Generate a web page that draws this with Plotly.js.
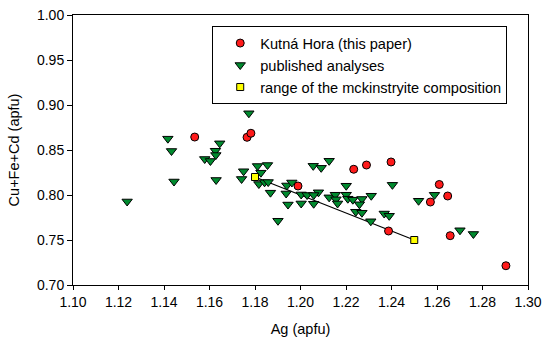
<!DOCTYPE html>
<html>
<head>
<meta charset="utf-8">
<script src="https://cdn.plot.ly/plotly-3.0.1.min.js"></script>
<style>html,body{margin:0;padding:0;background:#fff;}#chart{width:550px;height:343px;}</style>
</head>
<body>
<div id="chart"></div>
<script>
// Kutná Hora (this paper)
var kutnaX = [1.1535, 1.1765, 1.1782, 1.1989, 1.2234, 1.2290, 1.2398, 1.2387, 1.2610, 1.2647, 1.2571, 1.2658, 1.2903];
var kutnaY = [0.8644, 0.8641, 0.8686, 0.8100, 0.8286, 0.8333, 0.8367, 0.7600, 0.8117, 0.7989, 0.7922, 0.7548, 0.7214];

// published analyses
var pubX = [1.1238, 1.1417, 1.1433, 1.1444, 1.1579, 1.1604, 1.1626, 1.1628, 1.1645, 1.1629,
            1.1773, 1.1750, 1.1741, 1.1811, 1.1855, 1.1826, 1.1817, 1.1842, 1.1858, 1.1868,
            1.1940, 1.1962, 1.1937, 1.2003, 1.2029, 1.1945, 1.2003, 1.2058, 1.1901, 1.2056,
            1.2091, 1.2126, 1.2201, 1.2079, 1.2058, 1.2126, 1.2153, 1.2156, 1.2163, 1.2201,
            1.2208, 1.2230, 1.2270, 1.2311, 1.2259, 1.2243, 1.2270, 1.2309, 1.2368, 1.2390,
            1.2404, 1.2519, 1.2589, 1.2701, 1.2760];
var pubY = [0.7928, 0.8626, 0.8489, 0.8150, 0.8400, 0.8378, 0.8492, 0.8444, 0.8574, 0.8167,
            0.8908, 0.8264, 0.8178, 0.8322, 0.8333, 0.8248, 0.8122, 0.8141, 0.8144, 0.8026,
            0.8106, 0.8139, 0.8017, 0.8006, 0.8000, 0.7894, 0.7906, 0.7903, 0.7714, 0.8324,
            0.8302, 0.8380, 0.8103, 0.8030, 0.8000, 0.7974, 0.8003, 0.7952, 0.7906, 0.8003,
            0.7959, 0.7948, 0.7956, 0.7992, 0.7897, 0.7814, 0.7803, 0.7708, 0.7794, 0.7769,
            0.8113, 0.7936, 0.8002, 0.7608, 0.7567];

// range of the mckinstryite composition
var mckX = [1.18, 1.25];
var mckY = [0.82, 0.75];

// axis ticks
var xTicks = [1.10, 1.12, 1.14, 1.16, 1.18, 1.20, 1.22, 1.24, 1.26, 1.28, 1.30];
var yTicks = [0.70, 0.75, 0.80, 0.85, 0.90, 0.95, 1.00];

var font = 'Arial, "Liberation Sans", sans-serif';

var traces = [
  {x: mckX, y: mckY, mode: 'lines', line: {color: '#000', width: 1.2}, showlegend: false, hoverinfo: 'skip'},
  {x: pubX, y: pubY, mode: 'markers', name: 'published analyses', legendrank: 2,
   marker: {symbol: 'triangle-down', size: 9, color: '#008a2e', line: {color: '#000', width: 1}}},
  {x: kutnaX, y: kutnaY, mode: 'markers', name: 'Kutná Hora (this paper)', legendrank: 1,
   marker: {symbol: 'circle', size: 8, color: '#ff1a1a', line: {color: '#000', width: 1}}},
  {x: mckX, y: mckY, mode: 'markers', name: 'range of the mckinstryite composition', legendrank: 3,
   marker: {symbol: 'square', size: 7, color: '#ffff00', line: {color: '#000', width: 1}}}
];

var axisCommon = {
  showgrid: false, zeroline: false, showline: true, mirror: true,
  linecolor: '#000', linewidth: 1, ticks: 'outside', tickcolor: '#000', tickwidth: 1,
  tickfont: {family: font, size: 14, color: '#000'}, tickformat: '.2f'
};

var layout = {
  width: 550, height: 343,
  margin: {l: 72.5, r: 22, t: 15, b: 58},
  paper_bgcolor: '#fff', plot_bgcolor: '#fff',
  font: {family: font, size: 14, color: '#000'},
  xaxis: Object.assign({}, axisCommon, {
    range: [1.10, 1.30], tickvals: xTicks, ticklen: 4,
    title: {text: 'Ag (apfu)', font: {family: font, size: 14.5, color: '#000'}, standoff: 15}
  }),
  yaxis: Object.assign({}, axisCommon, {
    range: [0.70, 1.00], tickvals: yTicks, ticklen: 5,
    title: {text: 'Cu+Fe+Cd (apfu)', font: {family: font, size: 14.5, color: '#000'}, standoff: 13}
  }),
  legend: {
    x: 0.306, y: 0.959, xanchor: 'left', yanchor: 'top',
    bordercolor: '#000', borderwidth: 1, bgcolor: '#fff',
    font: {family: font, size: 14.6, color: '#000'},
    tracegroupgap: 0, indentation: 7
  },
  showlegend: true
};

Plotly.newPlot('chart', traces, layout, {staticPlot: true, displayModeBar: false});
</script>
</body>
</html>
